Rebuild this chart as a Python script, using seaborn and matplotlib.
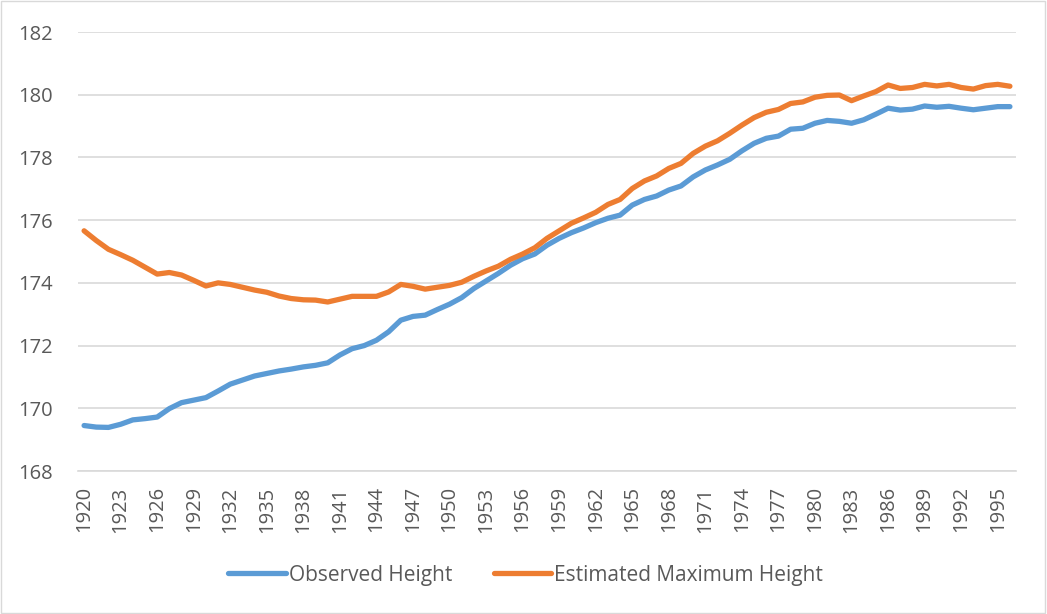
import numpy as np
import pandas as pd
import seaborn as sns
import matplotlib.pyplot as plt
from matplotlib.patches import Rectangle

years = list(range(1920, 1997))

observed = [
    169.45, 169.40, 169.39, 169.49, 169.63, 169.67, 169.72, 169.99, 170.18, 170.26,
    170.34, 170.55, 170.77, 170.90, 171.03, 171.11, 171.19, 171.25, 171.32, 171.37,
    171.45, 171.70, 171.90, 172.00, 172.17, 172.44, 172.81, 172.93, 172.97, 173.15,
    173.32, 173.53, 173.82, 174.06, 174.30, 174.56, 174.77, 174.92, 175.20, 175.42,
    175.60, 175.75, 175.92, 176.06, 176.16, 176.48, 176.66, 176.77, 176.96, 177.09,
    177.38, 177.60, 177.76, 177.94, 178.21, 178.45, 178.61, 178.68, 178.90, 178.93,
    179.09, 179.18, 179.15, 179.09, 179.20, 179.38, 179.57, 179.51, 179.54, 179.64,
    179.60, 179.63, 179.57, 179.52, 179.57, 179.62, 179.62,
]

estimated_max = [
    175.66, 175.35, 175.07, 174.90, 174.72, 174.50, 174.28, 174.33, 174.25, 174.08,
    173.90, 174.00, 173.95, 173.86, 173.77, 173.70, 173.58, 173.50, 173.46, 173.45,
    173.39, 173.48, 173.57, 173.57, 173.57, 173.71, 173.95, 173.89, 173.80, 173.86,
    173.92, 174.02, 174.21, 174.38, 174.53, 174.75, 174.92, 175.12, 175.42, 175.66,
    175.90, 176.07, 176.25, 176.50, 176.66, 177.01, 177.25, 177.41, 177.65, 177.81,
    178.13, 178.36, 178.53, 178.77, 179.03, 179.27, 179.44, 179.53, 179.72, 179.77,
    179.92, 179.98, 179.99, 179.81, 179.96, 180.10, 180.31, 180.20, 180.23, 180.33,
    180.28, 180.33, 180.23, 180.18, 180.29, 180.33, 180.27,
]

series_names = ['Observed Height', 'Estimated Maximum Height']
colors = ['#5B9BD5', '#ED7D31']
year_ticks = list(range(1920, 1996, 3))
height_ticks = list(range(168, 183, 2))

df = pd.DataFrame({'Year': years,
                   series_names[0]: observed,
                   series_names[1]: estimated_max})
long = df.melt(id_vars='Year', var_name='Series', value_name='Height')

sns.set_style('white')
plt.rcParams['font.family'] = ['Open Sans', 'DejaVu Sans']

fig = plt.figure(figsize=(10.47, 6.14), dpi=100)
ax = fig.add_axes([78 / 1047, 1 - 471 / 614, (1016 - 78) / 1047, (471 - 32) / 614])

sns.lineplot(data=long, x='Year', y='Height', hue='Series', hue_order=series_names,
             palette=colors, lw=3.8, ax=ax, legend=False)

ax.set_xlim(1919.5, 1996.5)
ax.set_ylim(168, 182)
ax.set_xticks(year_ticks)
ax.set_xticklabels([str(y) for y in year_ticks], rotation=90)
ax.set_yticks(height_ticks)
ax.set_xlabel('')
ax.set_ylabel('')
ax.grid(axis='y', color='#d9d9d9', lw=1.2)
ax.set_axisbelow(True)
for s in ['left', 'right', 'top']:
    ax.spines[s].set_visible(False)
ax.spines['bottom'].set_color('#d9d9d9')
ax.spines['bottom'].set_linewidth(1.2)
ax.tick_params(axis='both', length=0, labelsize=14.5, colors='#595959')
ax.tick_params(axis='y', pad=18)
ax.tick_params(axis='x', pad=11)

handles = [plt.Line2D([], [], color=c, lw=3.8, solid_capstyle='round') for c in colors]
fig.legend(handles, series_names, loc='center', bbox_to_anchor=(0.502, 1 - 575 / 614),
           ncol=2, frameon=False, fontsize=15, labelcolor='#595959',
           handlelength=2.75, handletextpad=0.15, columnspacing=2.0)

fig.patches.append(Rectangle((0.001, 0.001), 0.997, 0.997, transform=fig.transFigure,
                             fill=False, edgecolor='#d9d9d9', lw=1))

fig.savefig('out.png', dpi=100)
